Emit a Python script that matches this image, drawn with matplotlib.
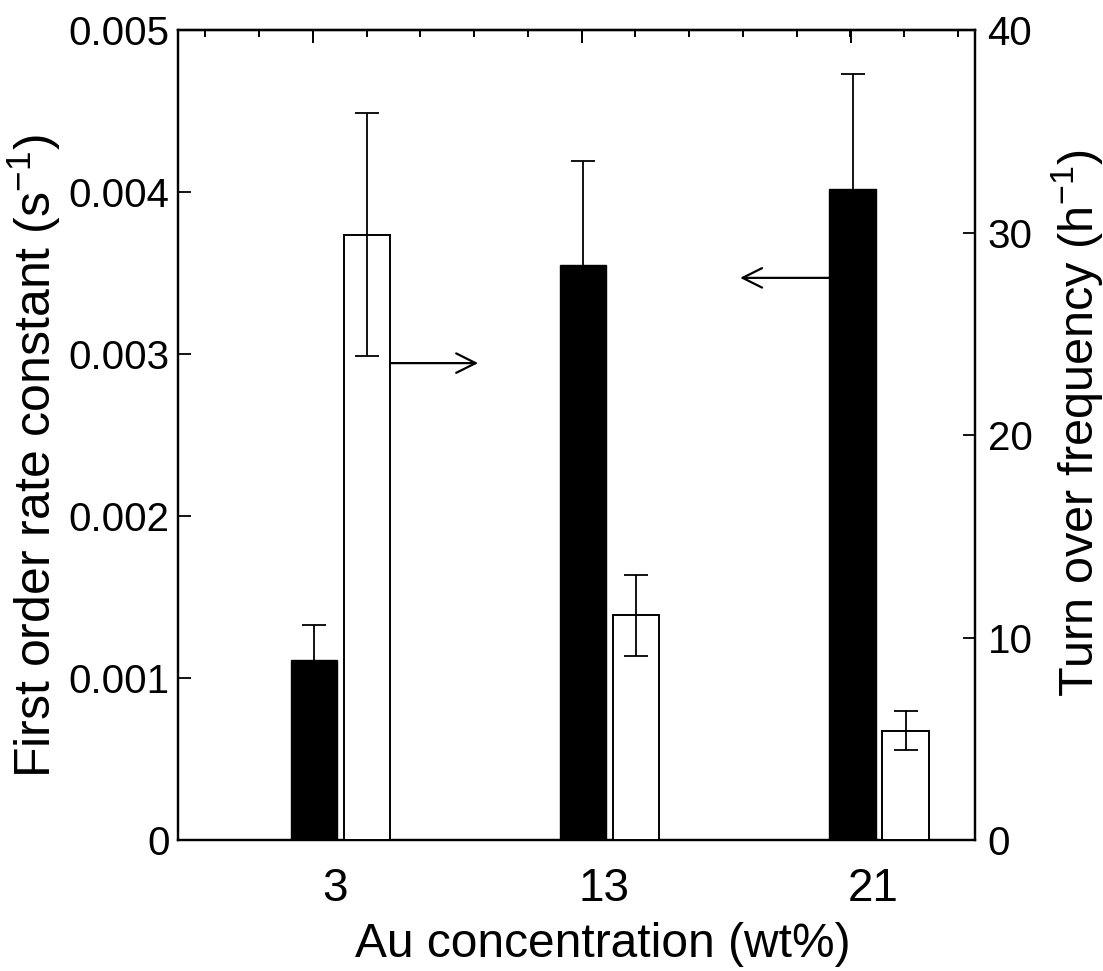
import matplotlib
matplotlib.use("Agg")
import matplotlib.pyplot as plt
import numpy as np
from matplotlib.ticker import FixedLocator, NullFormatter

plt.rcParams['font.family'] = ['Liberation Sans', 'DejaVu Sans']

categories = ["3", "13", "21"]
rate_const = [0.00111, 0.00355, 0.00402]
rate_err = [0.00022, 0.00064, 0.00071]
tof = [29.9, 11.1, 5.4]
tof_err = [6.0, 2.0, 0.95]

fig = plt.figure(figsize=(11.03, 9.71), dpi=100)
ax = fig.add_axes([0.1614, 0.1349, 0.8840 - 0.1614, 0.9691 - 0.1349])
ax2 = ax.twinx()

x = np.arange(len(categories))
w = 0.172
off = 0.0985
ekw = dict(elinewidth=1.3, capthick=1.3, capsize=8.5, ecolor='black')

ax.bar(x - off, rate_const, width=w, color='black', edgecolor='black', linewidth=1.0,
       yerr=rate_err, error_kw=ekw, zorder=3)
ax2.bar(x + off, tof, width=w, color='white', edgecolor='black', linewidth=1.4,
        yerr=tof_err, error_kw=ekw, zorder=3)

ax.set_xlim(-0.6035, 2.3565)
ax.set_ylim(0, 0.005)
ax2.set_ylim(0, 40)

ax.set_xticks(x - 0.02)
ax.set_xticklabels(categories)
ax.set_yticks([0, 0.001, 0.002, 0.003, 0.004, 0.005])
ax.set_yticklabels(["0", "0.001", "0.002", "0.003", "0.004", "0.005"])
ax2.set_yticks([0, 10, 20, 30, 40])

ax.tick_params(axis='x', which='both', bottom=False, top=False, labelsize=33, pad=16)
ax.tick_params(axis='y', direction='in', length=9, width=1.3, labelsize=29, pad=6)
ax2.tick_params(axis='y', direction='in', length=9, width=1.3, labelsize=29, pad=9)

# top axis decorative ticks
top = ax.secondary_xaxis('top')
top.xaxis.set_major_locator(FixedLocator([-0.102 + k * 0.998 for k in range(3)]))
top.xaxis.set_minor_locator(FixedLocator([-0.502 + k * 0.1996 for k in range(15)]))
top.xaxis.set_major_formatter(NullFormatter())
top.tick_params(which='major', direction='in', length=9, width=1.4)
top.tick_params(which='minor', direction='in', length=5, width=1.4)
top.spines['top'].set_linewidth(1.6)

for a in (ax, ax2):
    for s in a.spines.values():
        s.set_linewidth(1.6)

ax.set_xlabel("Au concentration (wt%)", fontsize=34.5, labelpad=8)
ax.xaxis.label.set_x(0.533)
ax.set_ylabel("First order rate constant (s$^{\\mathregular{-1}}$)", fontsize=36, labelpad=4)
ax.yaxis.label.set_y(0.474)
ax2.set_ylabel("Turn over frequency (h$^{\\mathregular{-1}}$)", fontsize=35, labelpad=12)
ax2.yaxis.label.set_y(0.515)

# arrows
astyle = '->,head_length=1.4,head_width=0.7'
ax2.annotate("", xy=(0.511, 23.55), xytext=(x[0] + off + w / 2, 23.55),
             arrowprops=dict(arrowstyle=astyle, lw=1.6, color='black',
                             shrinkA=0, shrinkB=0), zorder=5)
ax.annotate("", xy=(1.484, 0.00347), xytext=(x[2] - off - w / 2, 0.00347),
            arrowprops=dict(arrowstyle=astyle, lw=1.6, color='black',
                            shrinkA=0, shrinkB=0), zorder=5)

fig.savefig("out.png", dpi=100)
